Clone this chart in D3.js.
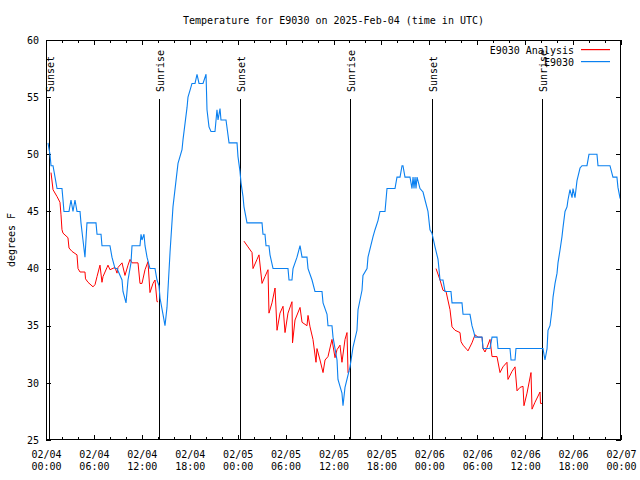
<!DOCTYPE html>
<html><head><meta charset="utf-8">
<script src="https://cdn.jsdelivr.net/npm/d3@7/dist/d3.min.js"></script>
<style>
body{margin:0;background:#fff;}
svg{display:block;}
text{font-family:"DejaVu Sans Mono","Liberation Mono",monospace;font-size:10px;fill:#000;}
</style></head>
<body><svg id="chart" width="640" height="480"></svg>
<script>
// ---- data (hours after 2025-02-04 00:00 UTC, degrees F) ----
const obsHours = [0.25,0.50,0.63,0.88,1.13,1.38,2.00,2.13,2.25,2.63,2.88,3.13,3.38,3.63,3.88,4.26,4.38,4.63,4.88,5.13,6.26,6.39,6.89,7.01,8.01,8.26,8.64,8.89,9.52,9.64,10.02,10.27,10.64,10.77,11.77,11.90,12.02,12.27,12.40,12.65,13.02,13.65,13.90,14.15,14.28,14.65,14.90,15.15,15.53,15.90,16.28,16.53,17.03,17.16,17.41,17.66,17.78,18.03,18.28,18.66,18.91,19.16,19.66,20.04,20.16,20.41,20.66,21.16,21.41,21.54,21.79,21.91,22.54,22.92,23.92,24.04,24.29,24.42,24.67,24.79,25.17,27.05,27.17,27.42,27.55,27.92,28.05,28.43,30.30,30.43,30.80,30.93,31.43,31.81,32.06,32.68,32.81,33.31,33.68,34.56,34.69,35.19,35.31,35.81,35.94,36.44,36.56,37.06,37.19,37.44,38.07,38.44,38.94,39.07,39.57,39.69,40.20,40.32,40.95,41.20,41.57,41.82,42.45,42.70,43.70,43.95,44.33,44.58,44.70,44.95,45.58,45.83,45.96,46.08,46.21,46.33,46.46,46.83,47.21,47.46,47.83,48.08,48.33,48.71,49.09,49.34,49.71,49.96,50.71,50.84,52.09,52.22,53.09,53.34,53.59,53.72,54.60,54.72,55.60,55.85,56.47,56.60,58.10,58.23,58.73,58.85,62.23,62.48,62.74,62.86,63.11,63.36,63.49,63.74,63.99,64.11,64.36,64.61,64.74,64.99,65.24,65.36,65.61,65.87,65.99,66.24,66.49,66.87,67.12,67.74,67.99,68.99,69.12,70.62,70.99,71.49,71.62,71.87,72.00];
const obsTemps = [51,50,49,49,48,47,47,46,45,45,45,46,45,46,45,45,44,42.5,41,44,44,43,43,42,42,41,40,40,39,38,37,39,40.5,42,42,43,42.5,43,42,41,40,40,39,38.5,37.4,36,35,36.6,41.4,45.4,47.7,49.2,50.4,51.3,52.7,54.1,55,55.6,56.2,56.2,57,56.2,56.2,57,53.9,52.4,52,52,53.9,53,54,53,53,51,51,49.8,48.5,47.5,46.3,45.4,44,44,43,43,42,42,41.2,40,40,39,39,40,41,42,41,41,40,39,38,38,37,36,35,35,34,32,30.3,29.1,28,29.6,31.4,33.1,34.6,36.4,38.1,39.4,40,41,42.8,43.4,44.2,45,45,47,47,48,48,49,49,48,48,47,48,47,48,47,48,47,46.7,46,45,43.4,43.1,41.9,40.8,39,39,38,38,37,37,36,36,35,34.4,34,34,33,33,34,34,33,33,32,32,33,33,32,33,34.6,35,36.4,37.5,38.7,39.6,40.5,41.6,42.8,43.6,45,45.4,46,46.9,46.2,47,46.2,47.7,48.8,49,49,50,50,49,49,48,48,47.1,46.2,46];
const anaHours = [0.63,0.88,1.38,1.75,1.88,2.00,2.13,2.75,2.88,3.26,3.88,4.01,4.26,4.88,4.95,5.26,5.89,6.14,6.39,6.76,7.01,7.14,7.64,7.76,8.01,8.64,8.89,9.02,9.52,9.89,10.27,10.52,10.77,11.52,11.77,12.02,12.40,12.77,13.02,13.40,13.65,13.90,14.02,
  null,
  24.79,25.29,25.80,25.92,26.42,26.67,27.05,27.42,27.80,27.92,28.30,28.68,28.93,29.30,29.68,29.93,30.30,30.80,30.87,31.18,31.81,32.06,32.68,32.81,33.06,33.43,33.81,33.93,34.31,34.69,34.94,35.31,35.81,36.19,36.44,36.81,37.06,37.44,37.69,37.82,37.94,
  null,
  48.84,49.34,49.71,50.09,50.59,50.84,51.22,51.84,51.97,52.22,52.72,52.84,53.34,53.72,54.10,54.60,54.72,54.97,55.22,55.60,55.85,56.47,56.85,57.22,57.72,57.85,58.35,58.73,58.98,59.35,59.73,59.85,60.23,60.73,60.86,61.23,61.86,61.92,62.11];
const anaTemps = [48.4,46.9,46.3,45.8,44.7,43.4,43.1,42.7,41.8,41.5,41.2,40,39.7,39.7,39.1,38.8,38.4,38.6,39.3,40.3,38.8,39.3,40.1,40.3,39.9,40.1,39.6,40.1,40.5,39.4,40.3,40.8,40.5,40.5,38.7,38.7,39.9,40.6,37.9,38.7,39,37.1,37.1,
  null,
  42.4,41.9,41.4,40,40.8,41.2,38.7,39.3,39.9,36.1,37,38.3,34.6,36.1,36.7,34.4,36.1,37.1,33.5,35.5,36.6,35.3,35,35.9,34.9,33.8,31.8,33,32,30.9,32,32.3,33.8,32.2,32.9,33.3,31.8,33.8,34.4,30.9,31,
  null,
  40,39,38.1,38,36.4,34.9,34.6,34.4,33.6,33.3,32.9,32.8,33.5,34.2,34,34,33,32.7,33.1,33.8,32.3,32.3,30.9,31.4,31.8,30.3,31,31.4,29.3,29.6,29.7,28,29.1,30.9,27.7,28.3,29.2,28.2,28.2];
const eventHours = [0.38,14.15,24.29,38.07,48.33,62.11];
const eventLabels = ["Sunset","Sunrise","Sunset","Sunrise","Sunset","Sunrise"];
const yTickValues = [25,30,35,40,45,50,55,60];
const seriesNames = ["E9030 Analysis","E9030"];
const seriesColors = ["#ff0000","#0a80f0"];
const titleText = "Temperature for E9030 on 2025-Feb-04 (time in UTC)";
const yLabelText = "degrees F";

// ---- chart ----
const svg = d3.select("#chart");
const L = 46, R = 621, T = 40, B = 440;
const t0 = Date.UTC(2025,1,4), t1 = Date.UTC(2025,1,7);
const toDate = h => new Date(t0 + h*3600e3);
const x = d3.scaleUtc().domain([t0, t1]).range([L, R]);
const y = d3.scaleLinear().domain([25, 60]).range([B, T]);

svg.append("text").attr("x", (L+R)/2).attr("y", 24).attr("text-anchor","middle").text(titleText);
svg.append("text").attr("transform","translate(11,240) rotate(-90)").attr("text-anchor","middle").attr("dy","0.35em").text(yLabelText);

svg.append("defs").append("clipPath").attr("id","clip")
  .append("rect").attr("x",L).attr("y",T).attr("width",R-L).attr("height",B-T);

// ticks
const majorX = d3.utcHour.every(6).range(new Date(t0), new Date(t1+1));
const minorX = d3.utcHour.every(2).range(new Date(t0), new Date(t1+1));
const fmtD = d3.utcFormat("%m/%d"), fmtT = d3.utcFormat("%H:%M");
function clean(g){ g.select(".domain").remove(); g.attr("font-family",null).attr("font-size",null); return g; }
const gx = clean(svg.append("g").attr("transform",`translate(0,${B})`)
  .call(d3.axisBottom(x).tickValues(majorX).tickSizeInner(-5).tickSizeOuter(0).tickFormat("")));
gx.selectAll(".tick text").remove();
gx.selectAll(".tick").append("text").attr("text-anchor","middle").attr("y",18).each(function(d){
  const s = d3.select(this);
  s.append("tspan").attr("x",0).text(fmtD(d));
  s.append("tspan").attr("x",0).attr("dy",12).text(fmtT(d));
});
clean(svg.append("g").attr("transform",`translate(0,${B})`)
  .call(d3.axisBottom(x).tickValues(minorX).tickSizeInner(-3).tickSizeOuter(0).tickFormat("")));
clean(svg.append("g").attr("transform",`translate(0,${T})`)
  .call(d3.axisTop(x).tickValues(majorX).tickSizeInner(-5).tickSizeOuter(0).tickFormat("")));
clean(svg.append("g").attr("transform",`translate(0,${T})`)
  .call(d3.axisTop(x).tickValues(minorX).tickSizeInner(-3).tickSizeOuter(0).tickFormat("")));
clean(svg.append("g").attr("transform",`translate(${L},0)`)
  .call(d3.axisLeft(y).tickValues(yTickValues).tickSizeInner(-5).tickSizeOuter(0).tickPadding(7).tickFormat(d3.format("d"))));
clean(svg.append("g").attr("transform",`translate(${R},0)`)
  .call(d3.axisRight(y).tickValues(yTickValues).tickSizeInner(-5).tickSizeOuter(0).tickFormat("")));
svg.selectAll(".tick line").attr("stroke","#000").attr("shape-rendering","crispEdges");

// event lines
const ev = svg.append("g");
eventHours.forEach((h,i) => {
  const xx = Math.round(x(toDate(h))) + 0.5;
  ev.append("line").attr("x1",xx).attr("x2",xx).attr("y1",y(55)+2).attr("y2",B)
    .attr("stroke","#000").attr("stroke-width",1).attr("shape-rendering","crispEdges");
  ev.append("text").attr("transform",`translate(${xx+1},92) rotate(-90)`).attr("dy","0.35em").text(eventLabels[i]);
});

// lines
const lineGen = d3.line()
  .defined((d) => d[0] !== null && d[1] !== null)
  .x(d => x(toDate(d[0]))).y(d => y(d[1]));
const obs = obsHours.map((h,i) => [h, obsTemps[i]]);
const ana = anaHours.map((h,i) => [h, anaTemps[i]]);
const plot = svg.append("g").attr("clip-path","url(#clip)");
plot.append("path").datum(ana).attr("d", lineGen).attr("fill","none").attr("stroke",seriesColors[0]).attr("stroke-width",1);
plot.append("path").datum(obs).attr("d", lineGen).attr("fill","none").attr("stroke",seriesColors[1]).attr("stroke-width",1.1);

// frame
svg.append("rect").attr("x",L+0.5).attr("y",T+0.5).attr("width",R-L-1).attr("height",B-T-1)
  .attr("fill","none").attr("stroke","#000").attr("stroke-width",1).attr("shape-rendering","crispEdges");

// legend
const leg = svg.append("g");
seriesNames.forEach((n,i) => {
  const yy = 50 + i*12;
  leg.append("text").attr("x",574).attr("y",yy).attr("dy","0.35em").attr("text-anchor","end").text(n);
  leg.append("rect").attr("x",581).attr("y",yy-1).attr("width",29).attr("height",1.2)
    .attr("fill",seriesColors[i]);
});
</script></body></html>
